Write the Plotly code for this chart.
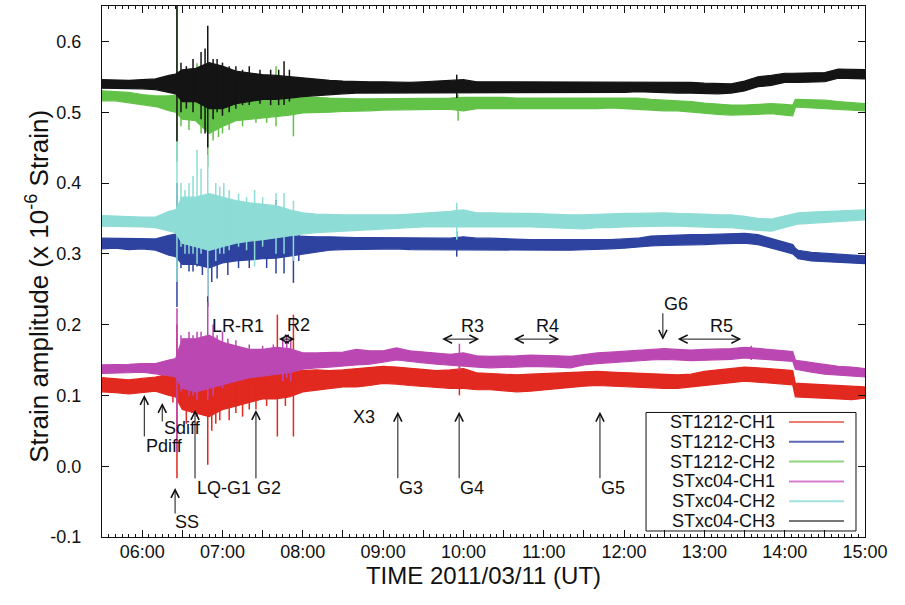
import plotly.graph_objects as go

DAY = "2011-03-11 "

TIMES = ["05:30", "05:40", "05:50", "06:00", "06:10", "06:20", "06:25", "06:30", "06:40", "06:50",
         "07:00", "07:10", "07:20", "07:30", "07:40", "07:50", "08:00", "08:10", "08:20", "08:30",
         "08:40", "08:50", "09:00", "09:10", "09:20", "09:30", "09:40", "09:50", "10:00", "10:10",
         "10:20", "10:30", "10:40", "10:50", "11:00", "11:10", "11:20", "11:30", "11:40", "11:50",
         "12:00", "12:10", "12:20", "12:30", "12:40", "12:50", "13:00", "13:10", "13:20", "13:30",
         "13:40", "13:50", "14:00", "14:06", "14:08", "14:10", "14:20", "14:30", "14:40", "14:50",
         "15:00"]

# ---- ST1212-CH1 (red) : lower / upper edge of the noisy trace
RED_LO = [.105, .104, .102, .104, .106, .100, .098, .080, .075, .070,
          .080, .085, .090, .095, .095, .098, .105, .108, .110, .112,
          .112, .114, .117, .116, .114, .113, .111, .110, .110, .108,
          .108, .107, .105, .106, .108, .109, .111, .113, .114, .114,
          .113, .112, .111, .110, .110, .111, .114, .116, .118, .120,
          .119, .117, .116, .115, .098, .098, .097, .096, .095, .094,
          .096]
RED_HI = [.125, .124, .122, .124, .126, .130, .132, .150, .150, .150,
          .145, .145, .140, .140, .140, .138, .135, .136, .135, .136,
          .138, .140, .141, .140, .138, .137, .135, .136, .138, .132,
          .131, .130, .129, .130, .131, .131, .132, .134, .134, .133,
          .132, .132, .131, .130, .129, .130, .134, .136, .138, .140,
          .139, .137, .136, .135, .117, .117, .116, .115, .114, .113,
          .112]
RED_SPK_T = ["06:23", "06:26", "06:29", "06:33", "06:37", "06:41", "06:45", "06:49", "06:52",
             "06:55", "06:58", "07:05", "07:10", "07:15", "07:20", "07:25", "07:33", "07:41",
             "07:47", "07:53", "09:57"]
RED_SPK_LO = [.090, -.017, .085, .060, .075, .070, .080, .002, .050, .060, .065, .065, .075,
              .070, .080, .080, .085, .042, .085, .042, .100]
RED_SPK_HI = [.150, .200, .150, .160, .155, .160, .160, .170, .160, .155, .150, .150, .145,
              .145, .145, .145, .145, .214, .150, .214, .150]

# ---- ST1212-CH3 (blue)
BLUE_LO = [.307, .308, .306, .307, .305, .298, .296, .285, .285, .280,
           .287, .290, .292, .293, .294, .296, .300, .302, .305, .306,
           .306, .307, .307, .307, .306, .306, .306, .306, .305, .306,
           .306, .305, .305, .305, .305, .305, .305, .306, .306, .307,
           .308, .309, .311, .312, .312, .313, .313, .314, .315, .315,
           .313, .308, .303, .300, .296, .293, .290, .289, .288, .287,
           .286]
BLUE_HI = [.322, .322, .321, .322, .321, .326, .328, .335, .335, .335,
           .330, .328, .327, .327, .326, .326, .325, .324, .324, .323,
           .323, .323, .323, .323, .322, .322, .322, .322, .324, .322,
           .322, .321, .320, .320, .320, .320, .320, .319, .319, .320,
           .321, .322, .325, .326, .326, .327, .327, .328, .329, .329,
           .327, .322, .317, .313, .308, .305, .302, .301, .300, .299,
           .297]
BLUE_SPK_T = ["06:26", "06:29", "06:35", "06:38", "06:41", "06:45", "06:49", "06:52", "06:56",
              "07:04", "07:12", "07:20", "07:33", "07:40", "07:46", "07:53", "07:57", "09:55"]
BLUE_SPK_LO = [.225, .280, .275, .275, .282, .270, .225, .260, .265, .270, .280, .280, .280,
               .272, .272, .259, .290, .296]
BLUE_SPK_HI = [.400, .340, .345, .340, .345, .340, .385, .340, .335, .330, .330, .330, .330,
               .376, .335, .335, .330, .332]

# ---- ST1212-CH2 (green)
GREEN_LO = [.516, .516, .514, .511, .508, .502, .500, .490, .488, .470,
            .480, .488, .490, .492, .494, .496, .499, .500, .500, .501,
            .502, .502, .503, .503, .503, .504, .504, .504, .502, .505,
            .505, .505, .505, .505, .505, .506, .506, .505, .505, .506,
            .506, .505, .503, .502, .502, .500, .499, .497, .496, .496,
            .497, .498, .496, .495, .507, .507, .507, .506, .504, .503,
            .502]
GREEN_HI = [.530, .529, .528, .525, .523, .523, .524, .530, .528, .530,
            .525, .522, .522, .522, .522, .522, .522, .521, .520, .519,
            .519, .519, .519, .519, .519, .519, .520, .520, .521, .521,
            .522, .521, .520, .520, .521, .521, .521, .520, .521, .521,
            .521, .520, .518, .517, .517, .515, .513, .511, .510, .510,
            .511, .512, .511, .510, .518, .518, .518, .517, .515, .514,
            .512]
GREEN_SPK_T = ["06:26", "06:29", "06:35", "06:41", "06:44", "06:49", "06:53", "06:57", "07:00",
               "07:05", "07:15", "07:25", "07:33", "07:40", "07:53", "09:56"]
GREEN_SPK_LO = [.430, .480, .475, .504, .470, .423, .460, .465, .470, .475, .480, .485, .485,
                .480, .466, .488]
GREEN_SPK_HI = [.660, .535, .530, .569, .535, .560, .540, .530, .530, .525, .525, .525, .525,
                .565, .540, .525]

# ---- STxc04-CH1 (magenta)
MAG_LO = [.131, .131, .132, .133, .130, .128, .126, .110, .105, .110,
          .115, .120, .125, .128, .130, .132, .137, .139, .140, .141,
          .143, .144, .147, .150, .148, .146, .144, .142, .141, .140,
          .139, .139, .140, .141, .141, .140, .139, .143, .145, .147,
          .148, .149, .150, .151, .150, .149, .150, .150, .151, .153,
          .152, .150, .149, .148, .137, .136, .133, .130, .128, .127,
          .126]
MAG_HI = [.143, .143, .144, .145, .145, .150, .152, .180, .180, .185,
          .175, .170, .165, .165, .168, .166, .160, .160, .160, .161,
          .165, .163, .163, .167, .163, .161, .159, .158, .160, .156,
          .155, .155, .156, .157, .157, .156, .155, .158, .160, .161,
          .162, .163, .165, .166, .165, .164, .165, .165, .166, .168,
          .166, .164, .163, .162, .150, .149, .146, .143, .141, .140,
          .138]
MAG_SPK_T = ["06:26", "06:29", "06:32", "06:35", "06:38", "06:41", "06:44", "06:49", "06:53",
             "06:56", "07:00", "07:04", "07:10", "07:20", "07:30", "07:38", "07:45", "07:48",
             "07:51", "09:57", "13:35"]
MAG_SPK_LO = [.019, .105, .110, .100, .100, .094, .110, .094, .100, .115, .110, .120, .125,
              .125, .130, .130, .120, .125, .120, .135, .150]
MAG_SPK_HI = [.223, .185, .180, .190, .185, .190, .190, .232, .200, .185, .190, .180, .178,
              .172, .170, .172, .180, .185, .180, .173, .170]

# ---- STxc04-CH2 (cyan)
CYAN_LO = [.339, .339, .338, .338, .337, .332, .330, .315, .310, .305,
           .310, .315, .318, .320, .322, .325, .328, .330, .332, .333,
           .334, .335, .335, .336, .337, .338, .339, .339, .338, .339,
           .339, .338, .338, .338, .337, .337, .336, .335, .337, .337,
           .338, .338, .339, .339, .339, .338, .338, .337, .337, .335,
           .333, .332, .336, .340, .341, .342, .344, .345, .346, .347,
           .348]
CYAN_HI = [.354, .353, .352, .352, .352, .360, .362, .380, .380, .385,
           .380, .375, .372, .370, .368, .362, .358, .356, .355, .355,
           .355, .355, .354, .355, .356, .357, .358, .360, .362, .358,
           .358, .357, .357, .357, .356, .356, .355, .355, .356, .356,
           .357, .357, .358, .358, .357, .357, .356, .355, .355, .353,
           .350, .349, .353, .356, .357, .358, .359, .360, .361, .362,
           .362]
CYAN_SPK_T = ["06:26", "06:29", "06:32", "06:35", "06:38", "06:41", "06:44", "06:49", "06:55",
              "06:58", "07:01", "07:05", "07:12", "07:18", "07:24", "07:30", "07:40", "07:46",
              "07:53", "09:55"]
CYAN_SPK_LO = [.260, .310, .300, .300, .300, .286, .300, .240, .290, .300, .300, .305, .310,
               .305, .282, .310, .300, .300, .290, .320]
CYAN_SPK_HI = [.458, .400, .390, .400, .410, .447, .420, .440, .400, .395, .400, .390, .385,
               .380, .390, .380, .386, .386, .375, .372]

# ---- STxc04-CH3 (black)
BLACK_LO = [.534, .533, .533, .533, .532, .528, .526, .515, .515, .505,
            .505, .512, .515, .518, .518, .520, .522, .524, .525, .526,
            .527, .527, .527, .527, .527, .527, .528, .528, .527, .528,
            .528, .528, .528, .527, .527, .527, .527, .527, .528, .528,
            .528, .529, .528, .528, .527, .527, .527, .526, .527, .530,
            .536, .538, .542, .542, .542, .542, .542, .543, .548, .548,
            .547]
BLACK_HI = [.546, .545, .545, .546, .547, .552, .554, .560, .562, .570,
            .565, .558, .555, .553, .552, .550, .548, .546, .545, .544,
            .543, .543, .543, .542, .542, .543, .544, .545, .546, .543,
            .543, .543, .543, .543, .542, .542, .542, .542, .543, .543,
            .543, .543, .543, .543, .542, .542, .541, .540, .540, .544,
            .550, .552, .555, .555, .555, .555, .555, .556, .561, .561,
            .560]
BLACK_SPK_T = ["06:26", "06:29", "06:33", "06:38", "06:44", "06:47", "06:49", "06:53", "06:56",
               "07:00", "07:05", "07:10", "07:15", "07:20", "07:28", "07:36", "07:42", "07:46",
               "07:50", "09:55"]
BLACK_SPK_LO = [.459, .500, .505, .500, .490, .470, .450, .490, .500, .495, .500, .505, .510,
                .510, .512, .510, .510, .510, .515, .520]
BLACK_SPK_HI = [.660, .570, .565, .575, .585, .590, .622, .575, .575, .570, .565, .565, .560,
                .565, .560, .560, .560, .572, .560, .553]

NAMES = ["ST1212-CH1", "ST1212-CH3", "ST1212-CH2", "STxc04-CH1", "STxc04-CH2", "STxc04-CH3"]
COLORS = ["#e2291f", "#2e42a0", "#62c248", "#bb48b2", "#8edcd6", "#141414"]
LEGEND_COLORS = ["#ef7b72", "#5b68b4", "#8fd47e", "#d67fd0", "#9fe3de", "#777777"]

# Arrow annotations (time of arrow, arrow head value, tail offset px)
ARROW_T = ["06:01:36", "06:15", "06:24:36", "06:39:30", "07:25", "09:11", "09:56:48", "11:42", "12:29"]
ARROW_HEAD = [0.1007, 0.0894, -0.0308, 0.0795, 0.0795, 0.077, 0.077, 0.077, 0.1785]
ARROW_LEN = [43, 20, 27, 70, 70, 68, 68, 68, -28]

LABELS = ["Pdiff", "Sdiff", "SS", "LQ-G1", "G2", "X3", "G3", "G4", "G5", "G6",
          "LR-R1", "R2", "R3", "R4", "R5"]
LABEL_T = ["06:17", "06:30:30", "06:33:30", "07:01", "07:35", "08:46", "09:21", "10:06:30",
           "11:52", "12:39", "07:11:30", "07:57", "10:06:30", "11:03", "13:12:30"]
LABEL_V = [0.028, 0.0545, -0.079, -0.031, -0.031, 0.0696, -0.031, -0.031, -0.031, 0.229,
           0.1983, 0.1995, 0.1983, 0.1983, 0.1983]

# Horizontal double arrows for the R phases (start, end)
RANGE_START = ["07:41", "09:43", "10:36:36", "12:39"]
RANGE_END = ["07:54", "10:11:48", "11:11:36", "13:27:36"]
RANGE_V = 0.1795

HOUR_LABELS = ["06:00", "07:00", "08:00", "09:00", "10:00", "11:00", "12:00", "13:00", "14:00", "15:00"]
HALF_TICKS = ["06:00", "06:30", "07:00", "07:30", "08:00", "08:30", "09:00", "09:30", "10:00",
              "10:30", "11:00", "11:30", "12:00", "12:30", "13:00", "13:30", "14:00", "14:30", "15:00"]
Y_TICKS = [-0.1, 0.0, 0.1, 0.2, 0.3, 0.4, 0.5, 0.6]

FONT = "Liberation Sans, Arial, sans-serif"

series = [
    (RED_LO, RED_HI, RED_SPK_T, RED_SPK_LO, RED_SPK_HI),
    (BLUE_LO, BLUE_HI, BLUE_SPK_T, BLUE_SPK_LO, BLUE_SPK_HI),
    (GREEN_LO, GREEN_HI, GREEN_SPK_T, GREEN_SPK_LO, GREEN_SPK_HI),
    (MAG_LO, MAG_HI, MAG_SPK_T, MAG_SPK_LO, MAG_SPK_HI),
    (CYAN_LO, CYAN_HI, CYAN_SPK_T, CYAN_SPK_LO, CYAN_SPK_HI),
    (BLACK_LO, BLACK_HI, BLACK_SPK_T, BLACK_SPK_LO, BLACK_SPK_HI),
]


def ts(t):
    return DAY + t


def secs(t):
    p = [int(v) for v in t.split(":")]
    return p[0] * 3600 + p[1] * 60 + (p[2] if len(p) > 2 else 0)


fig = go.Figure()
xs = [ts(t) for t in TIMES]
for name, color, (lo, hi, st, slo, shi) in zip(NAMES, COLORS, series):
    fig.add_trace(go.Scatter(
        x=xs + xs[::-1], y=list(hi) + list(lo)[::-1],
        mode="lines", fill="toself", fillcolor=color,
        line=dict(color=color, width=1.2),
        showlegend=False, hoverinfo="skip"))
    sx, sy = [], []
    for t, a, b in zip(st, slo, shi):
        sx += [ts(t), ts(t), None]
        sy += [a, b, None]
    fig.add_trace(go.Scatter(
        x=sx, y=sy, mode="lines", name=name, showlegend=False,
        line=dict(color=color, width=1.5), hoverinfo="skip"))

ann = []
for t, v, ln in zip(ARROW_T, ARROW_HEAD, ARROW_LEN):
    ann.append(dict(x=ts(t), y=v, xref="x", yref="y", text="", showarrow=True,
                    ax=0, ay=ln, arrowhead=5, arrowsize=1.6, arrowwidth=1,
                    arrowcolor="#111"))
PX_PER_SEC = 763 / (570.0 * 60)
for s, e in zip(RANGE_START, RANGE_END):
    ann.append(dict(x=ts(e), y=RANGE_V, xref="x", yref="y", text="", showarrow=True,
                    ax=-(secs(e) - secs(s)) * PX_PER_SEC, ay=0,
                    arrowhead=5, startarrowhead=5, arrowside="end+start",
                    arrowsize=1.6, arrowwidth=1, arrowcolor="#111"))
for lab, t, v in zip(LABELS, LABEL_T, LABEL_V):
    ann.append(dict(x=ts(t), y=v, xref="x", yref="y", text=lab, showarrow=False,
                    font=dict(family=FONT, size=18, color="#111")))

# y-axis title, placed like the original (slightly below the axis centre)
ann.append(dict(x=-0.084, y=0.473, xref="paper", yref="paper", showarrow=False,
                xanchor="center", yanchor="middle",
                text="Strain amplitude (x 10<sup>-6</sup> Strain)", textangle=-90,
                font=dict(family=FONT, size=26, color="#111")))

# gnuplot-style key box: label right-aligned, sample line on its right
LEG_BOX = (0.713, 0.0113, 0.9882, 0.2345)
LEG_TEXT_X = 0.8847
LEG_LINE_X = (0.9004, 0.9725)
LEG_ROW0, LEG_ROW_STEP = 0.2166, 0.0373
shapes = [dict(type="rect", xref="paper", yref="paper", x0=LEG_BOX[0], y0=LEG_BOX[1],
               x1=LEG_BOX[2], y1=LEG_BOX[3], line=dict(color="#111", width=1),
               fillcolor="rgba(0,0,0,0)", layer="above")]
for i, (name, lc) in enumerate(zip(NAMES, LEGEND_COLORS)):
    yy = LEG_ROW0 - i * LEG_ROW_STEP
    ann.append(dict(x=LEG_TEXT_X, y=yy, xref="paper", yref="paper", text=name,
                    showarrow=False, xanchor="right", yanchor="middle",
                    font=dict(family=FONT, size=18, color="#111")))
    shapes.append(dict(type="line", xref="paper", yref="paper", x0=LEG_LINE_X[0], x1=LEG_LINE_X[1],
                       y0=yy, y1=yy, line=dict(color=lc, width=2)))

fig.update_layout(
    width=905, height=605,
    margin=dict(l=102, r=40, t=6, b=68),
    paper_bgcolor="white", plot_bgcolor="white",
    font=dict(family=FONT, size=17, color="#111"),
    annotations=ann, shapes=shapes,
    showlegend=False,
)
fig.update_xaxes(
    type="date", range=[ts("05:30"), ts("15:00")],
    tickvals=[ts(t) for t in HALF_TICKS],
    ticktext=[t if t in HOUR_LABELS else " " for t in HALF_TICKS],
    ticks="inside", ticklen=7, tickcolor="#111", tickwidth=1,
    minor=dict(ticks="inside", ticklen=3, dtick=300000, tick0=ts("05:30"),
               tickcolor="#111", tickwidth=1, showgrid=False),
    showline=True, linecolor="#111", linewidth=1.3, mirror="ticks",
    showgrid=False, zeroline=False,
    tickfont=dict(family=FONT, size=18, color="#111"), ticklabelstandoff=-2,
    title=dict(text="TIME 2011/03/11 (UT)", font=dict(family=FONT, size=24, color="#111"),
               standoff=4),
)
fig.update_yaxes(
    range=[-0.1, 0.65],
    tickvals=Y_TICKS, ticktext=["%.1f" % v if v >= 0 else "-0.1" for v in Y_TICKS],
    ticks="inside", ticklen=7, tickcolor="#111", tickwidth=1,
    showline=True, linecolor="#111", linewidth=1.3, mirror="ticks",
    showgrid=False, zeroline=False,
    tickfont=dict(family=FONT, size=18, color="#111"), ticklabelstandoff=16,
)

fig.write_html("out.html", config={"displayModeBar": False},
               post_script="document.body.style.margin='0';document.body.style.overflow='hidden';")
